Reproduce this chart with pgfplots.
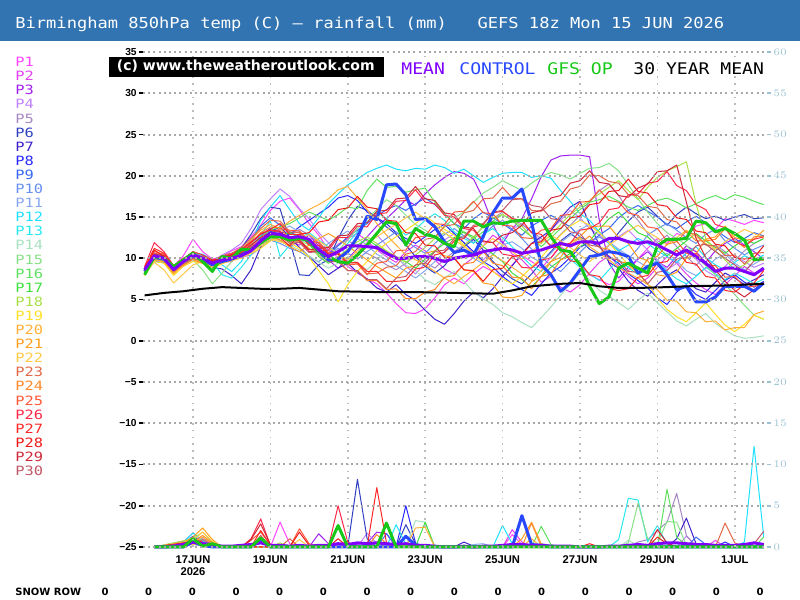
\documentclass[border=0pt]{standalone}
\usepackage{pgfplots}
\pgfplotsset{compat=1.18}
\usepackage{pgfplotstable}
\usepackage{fontspec}
\setmainfont{Liberation Sans}
\newfontfamily\titlefont{DejaVu Sans Mono}[FakeStretch=1.13]
\newfontfamily\legfont{DejaVu Sans Mono}[FakeStretch=1.2]
\newfontfamily\dvsans{DejaVu Sans}

\definecolor{titlebar}{HTML}{3274B2}
\definecolor{gridgray}{HTML}{A8A8A8}
\definecolor{vgridgray}{HTML}{BCBCBC}
\definecolor{rtick}{HTML}{9DC2D2}
\definecolor{meancol}{HTML}{8000FF}
\definecolor{ctrlcol}{HTML}{2848FF}
\definecolor{opcol}{HTML}{18C818}
\definecolor{p1}{HTML}{FF44FF}
\definecolor{p2}{HTML}{E040F0}
\definecolor{p3}{HTML}{A020F0}
\definecolor{p4}{HTML}{C080FF}
\definecolor{p5}{HTML}{A888C0}
\definecolor{p6}{HTML}{3040C0}
\definecolor{p7}{HTML}{4020C8}
\definecolor{p8}{HTML}{2828FF}
\definecolor{p9}{HTML}{3868F0}
\definecolor{p10}{HTML}{6890F0}
\definecolor{p11}{HTML}{88A8F0}
\definecolor{p12}{HTML}{20E0FF}
\definecolor{p13}{HTML}{28E8F0}
\definecolor{p14}{HTML}{A8E0C0}
\definecolor{p15}{HTML}{88E088}
\definecolor{p16}{HTML}{60E060}
\definecolor{p17}{HTML}{40E040}
\definecolor{p18}{HTML}{A8E048}
\definecolor{p19}{HTML}{FFE028}
\definecolor{p20}{HTML}{FFB038}
\definecolor{p21}{HTML}{FFA020}
\definecolor{p22}{HTML}{FFC848}
\definecolor{p23}{HTML}{E06848}
\definecolor{p24}{HTML}{FF8828}
\definecolor{p25}{HTML}{FF5838}
\definecolor{p26}{HTML}{FF2848}
\definecolor{p27}{HTML}{FF2828}
\definecolor{p28}{HTML}{F01818}
\definecolor{p29}{HTML}{D02838}
\definecolor{p30}{HTML}{C05868}

% 850 hPa temperature, one row per member, 6-hourly from 15 JUN 18z
\pgfplotstableread{
member 0 6 12 18 24 30 36 42 48 54 60 66 72 78 84 90 96 102 108 114 120 126 132 138 144 150 156 162 168 174 180 186 192 198 204 210 216 222 228 234 240 246 252 258 264 270 276 282 288 294 300 306 312 318 324 330 336 342 348 354 360 366 372 378 384
p1 8.3 10.1 10.4 9.0 10.3 12.3 10.8 9.9 10.2 10.9 11.4 12.6 14.0 15.8 16.9 17.3 15.9 14.2 12.8 11.0 10.1 9.0 8.2 7.5 6.9 5.8 4.5 3.4 3.3 3.9 5.2 6.8 7.6 6.9 8.1 9.0 8.4 7.7 9.2 10.3 9.6 8.8 10.1 11.4 10.6 9.2 8.0 7.4 6.8 7.2 8.5 9.9 11.2 12.4 11.8 13.0 12.6 13.9 14.2 13.5 14.8 14.5 14.1 14.6 14.3
p2 8.9 10.6 9.8 8.3 9.2 10.0 10.3 9.1 9.5 9.6 10.8 11.5 12.7 13.6 13.1 12.0 11.6 12.9 11.8 10.6 11.7 12.4 13.0 12.1 11.0 10.2 9.5 10.8 11.6 10.9 9.8 8.7 8.1 9.2 10.1 11.5 12.8 12.0 10.5 9.8 8.6 7.1 7.8 6.5 5.9 6.8 8.2 9.5 10.3 9.1 7.8 6.9 7.6 8.9 10.2 9.4 8.1 7.0 6.2 5.6 6.8 7.9 9.0 8.2 8.5
p3 8.1 9.9 10.2 8.8 9.8 10.2 9.7 9.0 9.6 10.2 10.6 11.2 12.4 12.8 12.2 11.4 12.1 12.8 11.5 9.8 8.8 9.9 11.2 12.6 13.9 14.8 15.9 17.1 16.4 17.8 18.9 19.8 20.5 20.3 19.6 17.2 14.1 11.8 13.6 14.8 17.2 19.9 21.9 22.4 22.5 22.5 22.3 14.6 9.4 7.6 8.9 9.9 10.8 9.6 8.9 10.2 11.5 10.8 9.5 10.9 11.8 12.4 11.6 10.8 9.9
p4 8.5 10.4 10.1 8.9 9.9 10.6 10.2 9.6 10.4 11.0 11.8 13.6 15.9 17.2 18.4 17.5 16.0 14.8 13.1 11.9 10.5 9.4 10.6 11.9 12.8 11.6 10.2 9.0 8.1 9.4 10.8 12.2 13.0 11.9 10.6 9.8 11.0 12.3 13.5 14.2 13.1 12.0 13.4 14.6 15.8 14.9 13.6 12.8 11.9 12.6 13.4 12.2 11.0 9.8 8.6 9.4 10.7 9.9 8.5 7.8 9.0 10.2 9.6 8.9 9.4
p5 8.7 10.0 9.6 8.5 9.4 10.1 9.9 9.2 9.9 9.8 10.1 10.4 11.3 12.1 12.6 12.9 13.5 12.8 11.9 10.9 11.6 12.2 11.3 10.6 10.0 9.2 8.6 9.4 10.3 9.5 8.8 9.9 10.8 11.6 12.5 13.9 14.8 15.6 14.9 14.1 13.2 12.4 11.6 12.9 14.0 15.2 16.8 18.2 19.0 17.6 15.8 14.6 13.0 11.9 12.8 11.4 10.2 9.1 10.5 11.6 10.8 9.7 10.9 11.8 12.4
p6 8.4 10.2 9.9 8.4 9.5 10.3 9.8 9.7 10.0 10.5 11.2 12.9 14.8 16.2 16.0 12.1 8.0 7.9 9.2 9.8 12.4 14.6 16.3 15.8 14.9 13.8 12.9 11.6 10.2 9.0 8.2 9.1 10.6 11.4 12.3 11.0 9.6 8.4 7.5 6.9 8.1 9.5 10.8 12.1 13.0 12.2 11.1 10.4 11.6 13.1 14.5 15.6 16.2 15.1 14.0 15.3 16.2 15.4 14.8 15.1 14.6 15.0 15.3 14.8 14.9
p7 8.2 9.8 9.7 8.7 9.9 10.0 9.6 8.9 8.7 7.9 6.9 8.6 11.4 13.2 13.8 12.6 11.3 10.2 9.1 8.0 8.8 9.4 8.3 7.5 6.4 5.9 6.8 5.6 4.9 3.7 2.6 2.0 3.3 4.8 5.9 5.2 6.3 7.8 9.1 10.6 11.8 12.6 13.4 14.9 16.2 16.9 14.1 11.6 9.5 8.8 7.2 6.1 5.4 6.8 7.9 8.6 7.4 6.3 5.9 7.1 8.2 7.6 6.8 7.4 8.0
p8 8.6 10.1 10.2 8.9 9.7 10.5 10.1 9.6 10.2 10.6 11.0 11.9 12.8 13.6 13.2 12.9 13.8 14.6 15.4 16.2 17.3 17.6 17.0 15.6 14.9 14.2 13.1 12.4 11.8 12.6 13.5 14.1 13.0 11.9 10.8 9.6 8.9 7.8 6.9 6.2 5.5 6.9 8.2 9.0 10.1 11.3 12.0 11.4 10.2 9.4 8.1 7.3 6.4 5.2 4.4 5.9 6.8 5.6 5.0 6.1 7.3 8.0 7.1 6.5 7.2
p9 8.0 9.6 9.5 8.2 9.3 9.9 10.3 9.5 9.8 10.3 11.0 12.2 13.9 14.9 14.0 13.2 12.6 12.0 11.2 10.5 11.5 12.6 13.4 14.2 15.1 15.9 16.4 15.8 16.6 17.3 16.5 15.4 14.2 13.6 14.8 15.6 14.9 14.2 13.4 12.8 13.9 14.6 15.2 14.5 13.8 12.6 11.9 12.8 13.6 14.9 15.8 16.4 15.7 15.0 14.1 13.6 14.4 15.1 14.3 13.5 12.6 11.9 12.4 13.1 12.7
p10 8.8 10.5 10.3 9.0 9.8 10.2 9.9 9.5 9.6 9.9 10.2 10.8 11.6 12.2 11.8 11.2 10.8 10.1 9.6 10.4 11.2 10.6 9.9 10.8 11.6 12.4 13.2 12.1 11.3 10.6 11.8 12.9 13.6 12.7 11.9 12.8 13.9 14.6 13.5 12.4 11.1 10.2 9.1 8.4 9.6 10.7 11.9 12.6 11.8 10.9 9.9 11.2 12.8 13.6 14.2 13.4 12.5 11.8 12.9 13.5 12.1 11.2 10.4 11.1 11.6
p11 8.5 10.2 10.0 8.8 9.6 10.0 9.8 9.7 9.9 10.4 10.6 11.4 12.3 12.9 13.4 13.9 13.2 12.0 10.9 11.8 12.6 13.3 12.4 11.6 10.5 9.8 9.1 8.4 7.6 8.5 9.6 10.8 11.5 10.9 10.0 9.3 10.5 11.6 12.0 11.2 10.1 9.5 10.6 11.9 12.8 13.5 14.1 13.2 12.0 11.1 10.3 9.6 8.9 9.8 10.6 9.7 8.5 7.9 8.8 9.9 10.5 9.4 8.6 9.3 10.0
p12 8.7 10.4 10.1 8.7 9.4 10.6 10.5 9.8 9.2 8.4 9.6 11.8 14.6 16.2 17.6 15.9 14.2 13.4 14.9 16.6 17.8 18.9 19.6 20.4 20.9 21.3 20.8 20.6 20.9 20.8 21.3 21.0 20.3 20.8 20.0 19.2 19.8 20.3 20.4 20.4 19.8 20.0 19.7 18.2 16.9 15.4 14.6 13.2 11.8 10.9 11.6 12.4 11.8 10.9 10.2 9.5 10.6 11.4 10.1 9.2 8.6 9.5 10.3 9.8 10.4
p13 8.4 10.0 9.7 8.9 9.9 10.8 10.2 9.6 8.0 7.6 8.9 10.4 12.8 14.5 10.2 11.6 12.4 13.1 12.2 11.4 10.6 11.8 13.2 14.4 15.6 14.8 13.9 12.8 13.5 14.6 15.4 14.6 13.2 12.4 11.8 12.9 13.6 12.5 11.4 10.2 9.1 8.4 9.6 10.8 9.9 8.9 8.1 7.3 8.6 9.8 8.9 8.0 8.7 9.6 8.4 7.5 6.9 7.8 8.9 8.1 7.4 8.2 7.6 6.9 7.5
p14 8.3 9.9 9.6 8.6 9.5 10.1 9.8 9.3 9.6 9.9 10.4 11.1 11.8 12.4 12.1 11.6 11.0 10.3 9.5 8.8 9.4 10.2 9.4 8.6 9.8 10.9 10.1 9.2 8.5 7.4 6.8 7.6 8.4 7.2 5.9 5.1 4.4 3.4 2.9 2.2 1.6 2.8 4.1 5.5 6.9 8.2 7.4 6.1 5.4 4.6 3.8 4.9 5.8 4.6 3.5 2.4 1.8 2.6 3.3 2.1 1.3 0.6 0.3 0.4 0.6
p15 8.0 9.7 9.9 8.5 9.2 9.8 8.6 6.9 8.2 9.6 10.5 11.3 12.2 13.1 12.8 12.5 12.2 11.6 10.4 9.8 10.9 12.2 13.6 14.8 15.9 17.1 16.4 15.2 14.1 13.4 12.6 13.8 14.9 15.6 16.8 17.9 18.6 19.4 18.8 18.2 19.1 19.9 20.4 20.1 19.6 20.3 20.9 21.0 21.5 20.6 18.9 17.2 15.6 14.2 13.1 12.4 11.6 10.2 9.1 8.0 6.8 5.6 4.3 3.1 2.6
p16 8.2 10.0 9.8 8.4 9.3 10.2 9.6 9.1 9.7 10.1 10.6 11.6 12.6 13.4 13.8 14.2 14.9 15.6 15.1 14.6 15.3 16.2 16.0 18.2 19.6 18.6 18.7 18.0 18.3 18.5 16.8 15.4 14.2 13.1 12.4 13.2 14.5 15.3 14.6 13.5 12.6 11.4 12.5 13.6 14.8 15.9 16.8 17.1 17.5 16.9 16.2 15.8 16.4 17.0 17.3 16.8 16.1 16.6 17.2 17.6 17.1 17.7 17.4 16.9 16.5
p17 8.5 10.1 10.3 8.7 9.7 10.3 9.9 9.5 10.1 10.3 10.8 11.0 11.6 12.2 12.7 13.1 12.5 11.8 10.2 9.4 10.1 10.9 11.6 12.3 11.5 10.8 10.0 9.6 8.8 9.9 10.9 11.8 12.5 13.2 12.6 11.4 10.5 9.6 8.2 7.4 6.5 7.8 8.9 9.8 10.6 11.4 12.1 13.5 14.8 15.6 14.3 13.1 12.6 11.4 10.3 11.2 12.1 13.0 12.1 11.3 10.6 11.5 12.3 11.8 12.4
p18 8.6 10.3 10.0 8.6 9.5 10.4 10.0 9.3 9.8 10.0 10.3 10.9 12.0 13.0 12.8 12.3 12.0 11.2 10.4 9.6 10.2 11.1 12.0 12.6 11.8 10.9 10.2 9.5 10.4 11.3 12.4 13.1 12.2 11.5 12.6 13.8 14.9 15.3 14.6 13.9 12.6 11.8 12.9 14.1 15.3 16.2 17.0 17.8 18.6 19.4 18.2 17.1 18.6 19.8 20.6 21.1 21.7 16.6 12.4 10.9 9.8 8.6 9.2 10.1 9.7
p19 7.9 9.6 9.4 7.9 9.0 9.6 9.4 8.8 9.3 9.8 10.2 10.6 11.2 12.1 12.6 11.9 11.2 10.1 8.5 6.9 4.7 6.8 8.4 9.6 10.9 11.8 12.6 13.4 14.2 15.1 14.3 13.5 12.8 11.6 10.4 9.5 8.4 7.5 6.9 7.8 8.9 10.1 11.5 12.8 13.9 14.6 14.0 13.1 11.9 10.5 9.2 8.1 6.9 5.2 3.8 2.9 2.3 3.4 4.6 3.2 1.9 1.1 2.0 3.1 2.6
p20 8.3 9.8 9.6 8.2 9.1 9.9 9.5 9.0 9.4 10.0 10.9 12.2 13.4 14.1 13.6 14.5 15.2 15.9 16.5 17.2 18.3 18.7 17.3 15.9 14.2 12.8 11.6 10.4 9.8 9.2 8.4 7.6 6.9 7.8 8.6 9.5 10.4 9.7 8.9 8.1 7.3 8.5 9.6 10.7 11.6 12.5 11.4 10.6 9.8 8.9 8.2 7.6 6.8 6.2 4.9 4.8 3.5 3.4 2.3 2.4 1.3 1.6 1.6 3.2 3.6
p21 8.6 9.9 9.6 8.1 9.4 10.1 9.6 9.1 9.7 10.1 10.4 11.0 11.9 12.6 12.2 11.4 10.8 11.6 12.4 13.0 12.3 11.5 10.6 9.8 9.0 8.3 7.6 8.8 9.1 10.6 10.9 10.3 10.1 8.6 8.4 7.0 6.8 5.3 5.2 5.5 7.2 7.8 9.6 10.1 11.9 12.6 13.8 13.9 13.9 12.5 11.8 10.1 9.7 8.0 7.8 8.3 10.0 10.5 12.3 12.6 13.9 12.5 12.2 12.3 13.4
p22 8.2 9.5 8.6 7.0 8.1 9.2 9.6 9.0 9.5 9.7 10.0 10.7 11.5 12.3 12.0 11.6 12.2 12.9 12.1 11.3 10.6 9.8 10.9 11.8 12.6 13.4 14.1 14.9 15.6 14.8 14.0 13.1 12.3 11.4 10.6 11.5 12.4 11.6 10.8 9.9 10.8 11.9 12.8 12.1 11.3 10.4 9.6 10.5 11.6 12.4 13.3 14.0 13.2 12.5 11.6 12.5 13.4 12.6 11.8 11.1 12.0 12.8 13.5 13.0 12.4
p23 8.8 10.6 10.4 8.9 9.8 10.5 10.2 9.6 10.3 10.6 11.3 12.4 13.6 14.6 14.5 13.2 13.1 11.8 11.9 10.7 10.7 9.5 9.4 8.1 8.2 8.9 9.1 10.5 10.8 12.3 12.5 13.9 14.1 15.5 15.8 17.2 17.3 18.6 17.3 17.2 15.8 15.7 16.6 16.9 18.4 18.7 20.1 20.0 19.3 19.1 17.7 17.6 16.3 16.1 14.7 14.4 13.1 12.9 11.6 11.5 10.3 10.4 9.3 10.6 10.7
p24 8.4 10.1 9.8 8.4 9.2 9.8 9.4 9.2 9.9 10.2 10.9 11.8 13.1 13.8 13.7 12.3 12.2 11.1 10.9 9.7 9.7 8.5 8.5 7.3 7.3 6.2 6.3 5.1 5.1 5.9 6.2 7.7 7.9 9.3 9.5 10.8 9.4 9.1 7.7 7.6 6.3 7.8 8.1 9.8 10.3 11.8 12.7 11.3 11.1 9.6 9.4 8.2 9.9 10.2 11.7 12.0 13.3 12.1 12.1 12.3 13.6 12.2 11.3 12.6 12.7
p25 8.7 10.8 10.5 8.8 9.7 10.4 10.0 9.5 9.9 10.2 10.7 11.4 12.2 12.9 13.6 13.4 13.3 12.1 11.9 10.6 10.5 9.2 9.3 8.0 9.4 9.6 10.9 11.0 12.5 12.7 14.2 14.1 15.6 15.7 16.9 15.5 15.4 14.0 13.9 12.5 12.4 13.4 13.6 15.2 15.3 16.8 16.9 18.3 17.0 16.8 15.5 15.2 13.8 13.6 12.1 12.1 10.6 10.6 9.2 9.1 7.7 7.8 6.5 6.6 7.0
p26 9.0 11.9 10.8 9.1 10.0 10.6 10.1 9.4 9.9 10.4 11.0 11.9 13.0 13.4 13.3 12.1 12.1 10.8 10.9 11.0 12.5 12.5 13.9 13.8 15.4 15.5 16.9 17.0 18.3 16.8 16.6 15.2 15.0 13.6 13.4 12.0 11.9 10.5 10.3 8.9 8.8 9.8 10.0 11.6 11.8 13.4 13.6 14.3 15.9 16.1 17.7 17.8 19.1 19.3 20.5 18.8 18.2 16.5 15.9 14.1 13.7 12.0 11.5 12.3 12.6
p27 8.9 11.2 10.6 9.0 9.9 10.8 10.4 9.8 10.1 10.5 11.1 12.0 12.9 13.5 14.2 12.9 12.9 11.6 11.6 10.5 10.5 9.4 9.5 8.4 8.4 7.2 7.2 7.3 8.7 8.9 10.4 10.7 12.1 12.4 13.8 14.1 15.5 15.7 14.8 14.6 13.1 12.9 11.4 11.2 9.7 9.5 8.0 7.8 6.3 6.1 6.3 7.7 7.9 9.4 9.6 11.0 9.5 9.3 7.8 7.6 6.1 5.9 6.8 7.0 8.5
p28 8.5 11.0 10.2 8.7 9.8 10.3 10.1 9.7 10.0 10.4 10.6 11.2 12.0 12.6 12.5 11.5 12.9 13.1 14.4 14.6 15.9 16.1 17.5 16.2 16.0 14.6 14.5 13.1 13.0 11.6 11.5 10.1 10.0 8.6 8.5 7.2 8.6 8.8 10.2 10.4 11.8 12.0 13.4 13.6 14.9 15.1 16.5 16.7 18.1 18.2 19.6 18.1 17.9 16.5 16.3 14.9 14.7 13.3 13.1 11.7 11.5 10.1 9.9 10.1 11.5
p29 8.6 10.5 10.3 8.5 9.6 10.2 9.9 9.6 10.1 10.3 10.8 11.6 12.5 13.2 13.2 12.1 12.2 11.0 11.2 11.3 12.7 12.8 14.2 14.3 15.7 15.8 17.2 17.3 18.7 17.2 17.0 15.5 15.3 13.8 13.6 12.1 11.9 12.8 13.1 14.0 15.5 15.8 17.3 17.6 19.1 19.4 20.6 19.2 19.0 17.6 17.4 18.5 19.0 20.5 20.6 21.3 16.8 12.4 10.1 8.6 7.2 6.1 5.3 6.2 7.1
p30 8.4 10.4 10.0 8.5 9.4 10.0 9.7 9.3 9.6 9.9 10.5 11.3 12.1 12.8 12.8 11.8 11.9 10.7 10.8 9.6 9.6 8.5 8.5 7.4 7.4 6.3 7.6 7.8 9.2 9.4 10.8 11.0 12.4 12.6 14.0 14.2 15.6 15.8 17.1 17.2 16.4 16.2 14.8 14.6 13.2 13.0 11.6 11.4 10.0 9.8 8.4 8.3 6.9 8.3 8.5 9.9 10.1 11.5 11.7 10.8 10.0 9.2 8.3 9.7 9.8
mean 8.6 10.3 10.0 8.6 9.6 10.4 10.0 9.4 9.8 10.0 10.3 10.9 12.1 13.0 12.9 12.5 12.6 12.3 11.0 10.2 10.8 11.5 11.5 11.4 11.3 10.6 10.0 10.0 10.2 10.2 10.0 9.6 10.0 10.2 10.4 10.8 11.0 11.2 11.0 10.6 10.8 11.0 11.4 11.8 11.5 12.0 12.0 11.8 12.4 12.4 12.0 11.8 12.0 11.6 11.0 10.4 11.0 10.2 9.4 8.4 8.8 8.8 8.4 8.0 8.8
ctrl 8.4 10.1 9.9 8.8 9.7 10.3 9.9 9.2 9.6 9.9 10.4 11.0 12.0 13.1 12.8 12.4 12.5 12.1 10.8 9.8 9.9 10.8 12.6 15.1 14.7 18.9 19.0 17.7 14.7 14.8 13.8 12.0 10.7 11.0 10.4 12.6 15.5 17.3 17.3 18.4 14.3 9.2 8.0 6.0 7.0 8.6 10.2 10.4 10.8 10.6 10.2 8.2 9.0 9.4 8.0 6.2 6.6 4.7 4.7 5.3 6.6 6.6 6.6 6.0 7.0
op 8.0 10.2 10.0 9.0 9.8 10.6 9.6 8.4 10.2 10.0 11.1 11.0 11.9 12.6 12.6 12.2 12.4 12.2 10.8 10.2 9.6 9.4 10.4 11.6 13.0 14.4 14.2 11.6 13.6 12.9 12.6 11.8 11.4 14.5 14.5 13.8 14.3 14.2 14.5 14.6 14.6 14.6 12.6 11.0 10.8 9.2 6.6 4.5 5.3 8.8 9.4 8.8 8.2 11.5 12.3 12.3 12.4 14.5 14.3 13.2 13.6 13.0 12.2 9.8 10.0
}\rawtemps
\pgfplotstabletranspose[colnames from=member,input colnames to=t]{\temps}{\rawtemps}

\begin{document}
\begin{tikzpicture}[x=0.5pt,y=0.5pt]
\path[use as bounding box] (0,0) rectangle (800,600);
\fill[titlebar] (0,559) rectangle (800,600);
\node[anchor=base west,inner sep=0pt,text=white,font=\titlefont\fontsize{7.55}{9}\selectfont] at (15,571.7)
  {Birmingham 850hPa temp (C) – rainfall (mm)\ \ \ GEFS 18z Mon 15 JUN 2026};

% ---------- rainfall (right axis) ----------
\begin{axis}[
  at={(71.5pt,26.5pt)}, anchor=south west,
  scale only axis, width=312pt, height=247.5pt,
  xmin=-1, xmax=386, ymin=0, ymax=60,
  clip=false,
  axis x line=none, axis y line*=right,
  y axis line style={draw=none},
  ytick={0,5,...,60},
  tick align=outside, major tick length=2pt,
  ytick style={rtick, line width=0.8pt},
  yticklabel style={text=rtick, font=\bfseries\fontsize{5.3}{6}\selectfont, inner sep=0pt, xshift=1pt},
  every axis plot/.append style={line join=round},
]
\addplot[p1,line width=0.5pt] coordinates {(6,0)(24,0.3)(30,0.8)(36,0.5)(42,0.2)(48,0)(78,0)(84,3.0)(90,0.4)(96,0)(222,0)(228,1.5)(234,0.3)(240,0)(384,0)};
\addplot[p2,line width=0.5pt] coordinates {(6,0)(24,0.4)(30,0.6)(36,1.0)(42,0.4)(48,0)(222,0)(228,2.1)(234,0.6)(240,0)(348,0)(354,0.8)(360,0)(384,0)};
\addplot[p3,line width=0.5pt] coordinates {(6,0)(30,0.3)(36,0.2)(42,0)(102,0)(108,1.6)(114,0.4)(120,0)(138,0.5)(144,1.8)(150,1.6)(156,0)(384,0)};
\addplot[p4,line width=0.5pt] coordinates {(6,0)(30,0.5)(36,0.9)(42,0.3)(48,0)(132,0)(138,1.7)(144,0.4)(150,0)(330,0)(336,1.3)(342,0.2)(348,0)(384,0)};
\addplot[p5,line width=0.5pt] coordinates {(6,0)(30,0.4)(36,0.3)(42,0)(300,0)(306,0.6)(312,0.9)(318,2.0)(324,3.0)(330,6.5)(336,1.4)(342,0)(384,0)};
\addplot[p6,line width=0.5pt] coordinates {(6,0)(24,0.2)(30,1.1)(36,0.4)(42,0)(126,0)(132,8.2)(138,1.0)(144,0)(156,0)(162,2.7)(168,0.4)(174,0)(384,0)};
\addplot[p7,line width=0.5pt] coordinates {(6,0)(30,0.6)(36,0.3)(42,0)(192,0)(198,0.6)(204,0.1)(210,0)(324,0)(330,1.0)(336,3.5)(342,0.4)(348,0)(384,0)};
\addplot[p8,line width=0.5pt] coordinates {(6,0)(24,0.4)(30,1.3)(36,0.6)(42,0.3)(48,0)(156,0)(162,5.0)(168,0.5)(174,0)(354,0)(360,0.6)(366,0)(384,0)};
\addplot[p9,line width=0.5pt] coordinates {(6,0)(30,0.9)(36,0.5)(42,0)(144,0)(150,1.6)(156,0.2)(162,0)(336,0)(342,1.2)(348,0.3)(354,0)(384,0)};
\addplot[p10,line width=0.5pt] coordinates {(6,0)(24,0.6)(30,1.7)(36,0.8)(42,0.3)(48,0)(240,0)(246,0.4)(252,0.2)(258,0)(384,0)};
\addplot[p11,line width=0.5pt] coordinates {(6,0)(30,0.7)(36,1.0)(42,0.5)(48,0)(198,0)(204,0.3)(210,0.4)(216,0)(384,0)};
\addplot[p12,line width=0.5pt] coordinates {(6,0)(24,0.5)(30,1.7)(36,0.7)(42,0)(150,0)(156,2.7)(162,0.3)(168,0)(216,0)(222,2.6)(228,0.4)(234,0)(366,0)(372,0.6)(378,12.2)(384,1.2)};
\addplot[p13,line width=0.5pt] coordinates {(6,0)(30,0.6)(36,0.4)(42,0)(288,0)(294,0.9)(300,5.9)(306,5.7)(312,0.6)(318,2.6)(324,0.3)(330,0)(384,0)};
\addplot[p14,line width=0.5pt] coordinates {(6,0)(30,0.3)(36,0.2)(42,0)(162,0)(168,3.2)(174,3.0)(180,0)(294,0)(300,0.8)(306,0.2)(312,0)(384,0)};
\addplot[p15,line width=0.5pt] coordinates {(6,0)(30,0.4)(36,0.2)(42,0)(294,0)(300,0.5)(306,5.3)(312,1.0)(318,0.4)(324,3.1)(330,3.0)(336,0.2)(342,0)(384,0)};
\addplot[p16,line width=0.5pt] coordinates {(6,0)(24,0.3)(30,0.8)(36,0.4)(42,0)(240,0)(246,2.5)(252,0.3)(258,0)(318,0)(324,7.0)(330,1.2)(336,0.2)(342,0)(378,0)(384,1.2)};
\addplot[p17,line width=0.5pt] coordinates {(6,0)(30,0.5)(36,0.2)(42,0)(66,0)(72,1.0)(78,0)(168,0)(174,3.0)(180,0)(384,0)};
\addplot[p18,line width=0.5pt] coordinates {(6,0)(30,1.0)(36,1.8)(42,0.6)(48,0)(78,0)(84,0.5)(90,0)(384,0)};
\addplot[p19,line width=0.5pt] coordinates {(6,0)(30,0.3)(36,0.4)(42,0)(66,0)(72,0.9)(78,0)(138,0)(144,0.6)(150,0)(384,0)};
\addplot[p20,line width=0.5pt] coordinates {(6,0)(30,0.5)(36,1.2)(42,0.4)(48,0)(162,0)(168,2.3)(174,2.4)(180,0)(234,0)(240,1.0)(246,0)(384,0)};
\addplot[p21,line width=0.5pt] coordinates {(6,0)(24,0.5)(30,1.2)(36,2.3)(42,0.9)(48,0)(228,0)(234,1.0)(240,3.0)(246,0.4)(252,0)(384,0)};
\addplot[p22,line width=0.5pt] coordinates {(6,0)(30,0.8)(36,1.8)(42,0.7)(48,0)(90,0)(96,0.9)(102,0)(384,0)};
\addplot[p23,line width=0.5pt] coordinates {(6,0)(30,0.4)(36,0.9)(42,0.3)(48,0)(84,0)(90,1.0)(96,0)(354,0)(360,2.9)(366,0.5)(372,0)(384,0)};
\addplot[p24,line width=0.5pt] coordinates {(6,0)(30,0.6)(36,1.4)(42,0.5)(48,0)(138,0)(144,1.5)(150,0.4)(156,0)(234,0)(240,2.9)(246,0)(384,0)};
\addplot[p25,line width=0.5pt] coordinates {(6,0)(30,0.7)(36,0.5)(42,0)(60,0)(66,0.8)(72,1.8)(78,0.3)(84,0)(90,0)(96,2.2)(102,0.4)(108,0)(384,0)};
\addplot[p26,line width=0.5pt] coordinates {(6,0)(24,0.4)(30,0.9)(36,0.6)(42,0)(60,0)(66,1.0)(72,3.4)(78,0.2)(84,0)(114,0)(120,5.0)(126,0.6)(132,0)(384,0)};
\addplot[p27,line width=0.5pt] coordinates {(6,0)(30,0.5)(36,0.4)(42,0)(66,0)(72,2.0)(78,0.2)(84,0)(138,0)(144,7.2)(150,0.5)(156,0)(270,0)(276,0.4)(282,0)(384,0)};
\addplot[p28,line width=0.5pt] coordinates {(6,0)(30,0.6)(36,0.3)(42,0)(90,0)(96,1.8)(102,0.2)(108,0)(114,0)(120,1.0)(126,0)(312,0)(318,1.2)(324,0.4)(330,0)(384,0)};
\addplot[p29,line width=0.5pt] coordinates {(6,0)(24,0.4)(30,0.8)(36,0.4)(42,0)(60,0)(66,0.9)(72,2.8)(78,0.3)(84,0)(312,0)(318,2.1)(324,0.5)(330,0)(384,0)};
\addplot[p30,line width=0.5pt] coordinates {(6,0)(30,0.5)(36,0.3)(42,0)(66,0)(72,1.4)(78,0)(372,0)(378,0.4)(384,1.9)};
\addplot[ctrlcol,line width=1.5pt] coordinates {(6,0)(24,0)(30,0.6)(36,0.2)(42,0)(66,0)(72,0.8)(78,0)(156,0)(162,1.3)(168,0.2)(174,0)(228,0)(234,3.8)(240,0.3)(246,0.2)(252,0)(384,0)};
\addplot[meancol,line width=1.5pt] coordinates {(6,0)(12,0)(18,0.1)(24,0.3)(30,0.6)(36,0.4)(42,0.3)(48,0.1)(54,0.1)(60,0.2)(66,0.3)(72,0.5)(78,0.2)(84,0.2)(90,0.1)(96,0.2)(102,0.1)(108,0.2)(114,0.2)(120,0.4)(126,0.3)(132,0.5)(138,0.4)(144,0.5)(150,0.4)(156,0.3)(162,0.4)(168,0.2)(174,0.2)(180,0.1)(186,0)(192,0)(198,0.1)(204,0)(210,0.1)(216,0.1)(222,0.2)(228,0.3)(234,0.3)(240,0.2)(246,0.2)(252,0.1)(258,0.1)(264,0.1)(270,0)(276,0)(282,0)(288,0.1)(294,0.1)(300,0.2)(306,0.3)(312,0.2)(318,0.4)(324,0.5)(330,0.5)(336,0.4)(342,0.3)(348,0.3)(354,0.2)(360,0.2)(366,0.2)(372,0.3)(378,0.5)(384,0.3)};
\addplot[opcol,line width=1.5pt] coordinates {(6,0)(24,0)(30,1.0)(36,0.1)(42,0.4)(48,0)(66,0)(72,1.1)(78,0)(114,0)(120,2.6)(126,0)(144,0)(150,2.9)(156,0)(384,0)};
\end{axis}

% ---------- 850 hPa temperature (left axis) ----------
\begin{axis}[
  at={(71.5pt,26.5pt)}, anchor=south west,
  scale only axis, width=312pt, height=247.5pt,
  xmin=-1, xmax=386, ymin=-25, ymax=35,
  clip=false, axis on top,
  axis x line*=bottom, axis y line*=left,
  axis line style={draw=none},
  xtick={30,78,126,174,222,270,318,366},
  xticklabels={{17JUN\\2026},19JUN,21JUN,23JUN,25JUN,27JUN,29JUN,1JUL},
  ytick={-25,-20,...,35},
  yticklabels={−25,−20,−15,−10,−5,0,5,10,15,20,25,30,35},
  grid=major,
  major y grid style={gridgray, line width=1pt, dash pattern=on 1pt off 1.6pt},
  major x grid style={vgridgray, line width=0.8pt, dash pattern=on 0.8pt off 2.6pt},
  tick align=outside, major tick length=2pt,
  xtick style={draw=none},
  ytick style={black, line width=0.8pt},
  xticklabel style={font=\bfseries\fontsize{5.6}{6}\selectfont, align=center, inner sep=0pt, yshift=-2pt},
  yticklabel style={font=\bfseries\fontsize{5.1}{6}\selectfont, inner sep=0pt, xshift=-1pt},
  every axis plot/.append style={line join=round},
]
\pgfplotsinvokeforeach{1,...,30}{
  \addplot[p#1,line width=0.5pt] table[x=t,y=p#1]{\temps};
}
\addplot[ctrlcol,line width=1.5pt] table[x=t,y=ctrl]{\temps};
\addplot[opcol,line width=1.5pt] table[x=t,y=op]{\temps};
\addplot[meancol,line width=1.5pt] table[x=t,y=mean]{\temps};
\addplot[black,line width=1pt] coordinates {(0,5.5)(12,5.8)(24,6.0)(36,6.3)(48,6.5)(60,6.4)(72,6.3)(84,6.3)(96,6.4)(108,6.2)(120,6.0)(144,5.9)(168,5.9)(192,5.8)(216,5.7)(228,6.1)(240,6.6)(258,6.9)(270,7.0)(282,6.6)(294,6.4)(306,6.4)(324,6.5)(336,6.6)(360,6.7)(384,6.9)};
\end{axis}

% ---------- watermark and key ----------
\fill[black] (109,522.7) rectangle (384,543.3);
\node[anchor=base west,inner sep=0pt,text=white,font=\dvsans\bfseries\fontsize{7}{8}\selectfont] at (116.5,529.3) {(c) www.theweatheroutlook.com};
\node[anchor=base west,inner sep=0pt,text=meancol,font=\titlefont\fontsize{8}{9}\selectfont] at (401,525) {MEAN};
\node[anchor=base west,inner sep=0pt,text=ctrlcol,font=\titlefont\fontsize{8}{9}\selectfont] at (459,525) {CONTROL};
\node[anchor=base west,inner sep=0pt,text=opcol,font=\titlefont\fontsize{8}{9}\selectfont] at (547,525) {GFS OP};
\node[anchor=base west,inner sep=0pt,text=black,font=\titlefont\fontsize{8}{9}\selectfont] at (633,525) {30 YEAR MEAN};

% ---------- member list ----------
\foreach \i in {1,...,30}{
  \node[anchor=base west,inner sep=0pt,text=p\i,font=\legfont\fontsize{6.4}{7}\selectfont] at (15,{533.3-14.1*(\i-1)}) {P\i};
}

% ---------- snow row ----------
\node[anchor=base west,inner sep=0pt,font=\dvsans\bfseries\fontsize{5}{6}\selectfont] at (15,4) {SNOW ROW};
\foreach \k in {0,...,15}{
  \node[anchor=base,inner sep=0pt,font=\dvsans\bfseries\fontsize{5}{6}\selectfont] at ({105+43.67*\k},4) {0};
}
\end{tikzpicture}
\end{document}
